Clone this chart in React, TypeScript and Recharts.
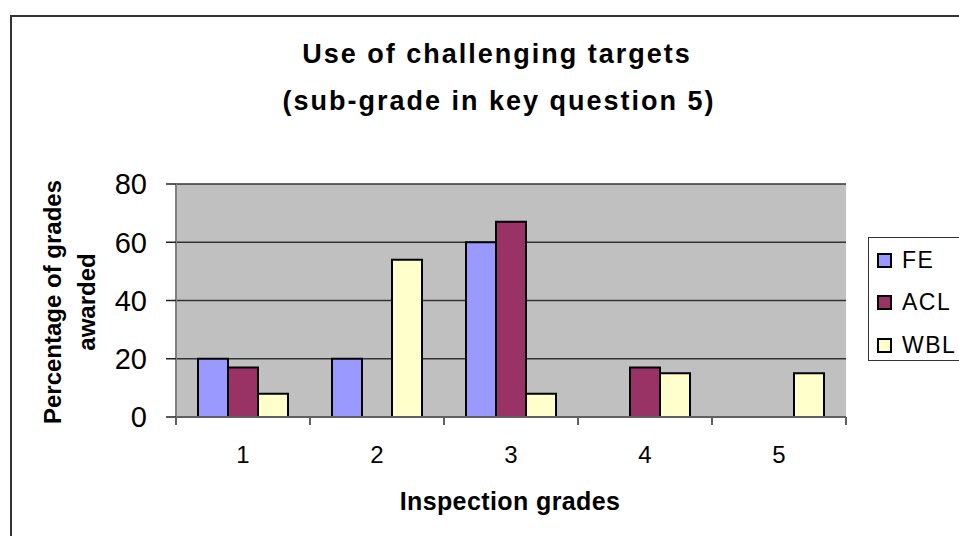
import React from 'react';
import { BarChart, Bar, XAxis, YAxis, CartesianGrid } from 'recharts';

const grades = ['1', '2', '3', '4', '5'];
const feValues = [20, 20, 60, 0, 0];
const aclValues = [17, 0, 67, 17, 0];
const wblValues = [8, 54, 8, 15, 15];
const yTicks = [0, 20, 40, 60, 80];

const series = [
  { key: 'FE', color: '#9999FF' },
  { key: 'ACL', color: '#993366' },
  { key: 'WBL', color: '#FFFFCC' },
];

const data = grades.map((g, i) => ({
  grade: g,
  FE: feValues[i],
  ACL: aclValues[i],
  WBL: wblValues[i],
}));

const font = '"Liberation Sans", Arial, sans-serif';

// category axis tick: label at the centre, tick marks on the band edges (Excel style)
const GradeTick = (props: any) => {
  const { x, y, payload, index } = props;
  const off = payload && payload.offset ? payload.offset : 67;
  const last = index === grades.length - 1;
  return (
    <g>
      <line x1={x - off} x2={x - off} y1={y} y2={y + 8} stroke="#606060" strokeWidth={2} />
      {last && <line x1={x + off} x2={x + off} y1={y} y2={y + 8} stroke="#606060" strokeWidth={2} />}
      <text x={x} y={y + 46} textAnchor="middle" fontSize={24} fill="#000" fontFamily={font}>
        {payload.value}
      </text>
    </g>
  );
};

const App: React.FC = () => {
  return (
    <div style={{ position: 'absolute', left: 0, top: 0, width: 959, height: 536, overflow: 'hidden', background: '#fff', fontFamily: font }}>
      <div style={{ position: 'absolute', left: 10, top: 15, width: 1000, height: 600, borderLeft: '2px solid #333', borderTop: '2px solid #333' }} />

      <div style={{ position: 'absolute', left: 0, width: 994, top: 30, textAlign: 'center', fontSize: 27, fontWeight: 'bold', letterSpacing: 2, lineHeight: '48px', whiteSpace: 'nowrap' }}>
        Use of challenging targets
      </div>
      <div style={{ position: 'absolute', left: 0, width: 998, top: 77, textAlign: 'center', fontSize: 27, fontWeight: 'bold', letterSpacing: 2, lineHeight: '48px', whiteSpace: 'nowrap' }}>
        (sub-grade in key question 5)
      </div>

      <BarChart
        width={959}
        height={536}
        data={data}
        margin={{ top: 184, right: 113, left: 116, bottom: 59 }}
        barCategoryGap={22}
        barGap={0}
        style={{ position: 'absolute', left: 0, top: 0 }}
      >
        <CartesianGrid fill="#C0C0C0" vertical={false} stroke="#333" strokeWidth={1.5} />
        <XAxis
          dataKey="grade"
          height={60}
          tickLine={false}
          tickSize={0}
          tickMargin={0}
          tick={<GradeTick />}
          axisLine={{ stroke: '#606060', strokeWidth: 2 }}
          interval={0}
        />
        <YAxis
          width={60}
          domain={[0, 80]}
          ticks={yTicks}
          interval={0}
          tickSize={10}
          tickMargin={19}
          tickLine={{ stroke: '#222', strokeWidth: 1.5 }}
          axisLine={{ stroke: '#808080', strokeWidth: 2 }}
          tick={{ fill: '#000', fontSize: 29, fontFamily: font }}
        />
        <YAxis
          yAxisId="edge"
          orientation="right"
          width={0}
          domain={[0, 80]}
          tick={false}
          tickLine={false}
          axisLine={{ stroke: '#808080', strokeWidth: 2 }}
        />
        {series.map((s) => (
          <Bar key={s.key} dataKey={s.key} fill={s.color} stroke="#000" strokeWidth={2} isAnimationActive={false} />
        ))}
      </BarChart>

      <div
        style={{
          position: 'absolute', left: -80, top: 268, width: 300, height: 68,
          transform: 'rotate(-90deg)', transformOrigin: 'center',
          textAlign: 'center', fontSize: 24, fontWeight: 'bold', lineHeight: '34px', whiteSpace: 'nowrap',
        }}
      >
        Percentage of grades
        <br />
        awarded
      </div>

      <div style={{ position: 'absolute', left: 310, width: 400, top: 486, textAlign: 'center', fontSize: 25, fontWeight: 'bold', lineHeight: '30px', letterSpacing: 0.4 }}>
        Inspection grades
      </div>

      <div style={{ position: 'absolute', left: 868, top: 237, width: 130, height: 124, border: '1px solid #333', boxSizing: 'border-box' }}>
        {series.map((s, i) => (
          <div key={s.key} style={{ position: 'absolute', left: 8, top: 1 + i * 42.5, height: 42, display: 'flex', alignItems: 'center' }}>
            <span style={{ display: 'inline-block', width: 15, height: 15, boxSizing: 'border-box', border: '2px solid #000', background: s.color, marginRight: 10 }} />
            <span style={{ fontSize: 23, letterSpacing: 1.5 }}>{s.key}</span>
          </div>
        ))}
      </div>
    </div>
  );
};

export default App;
